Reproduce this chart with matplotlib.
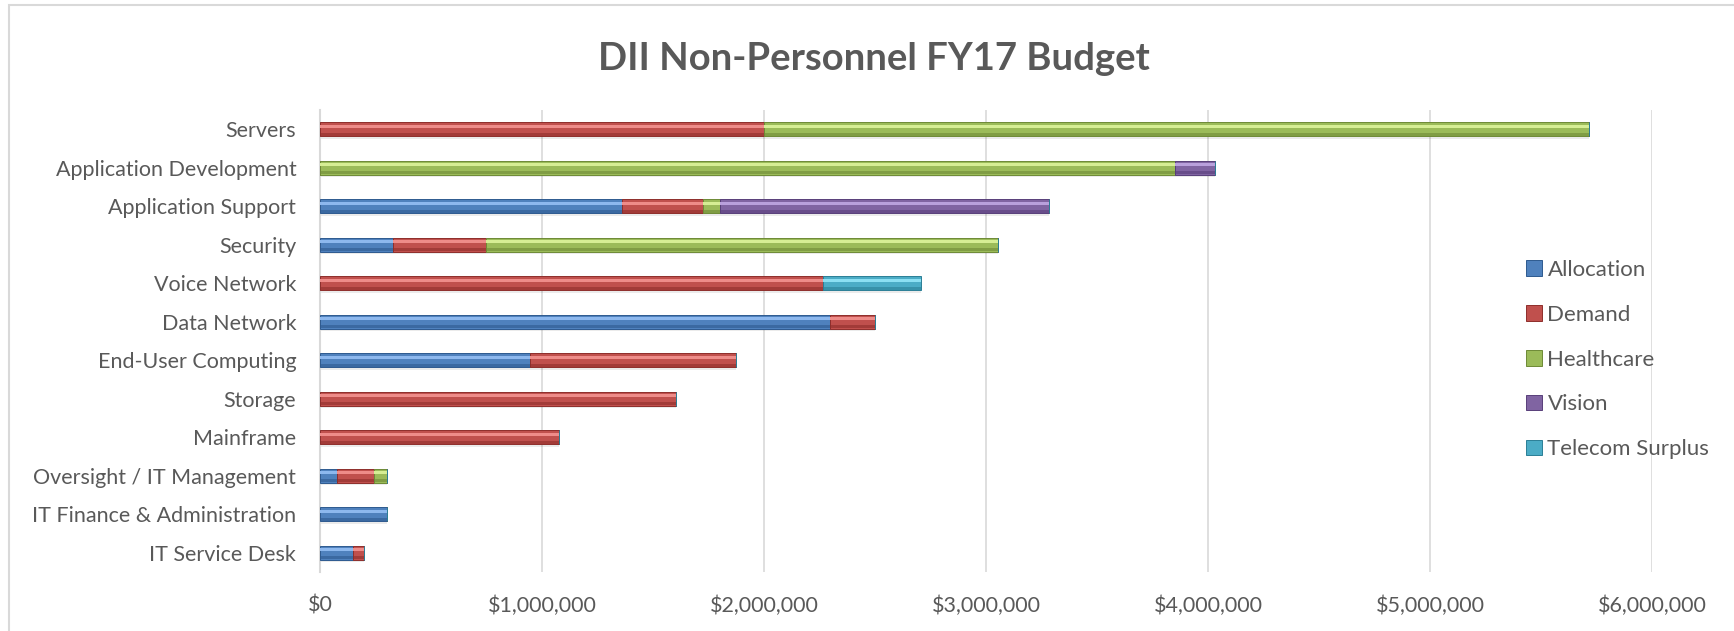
import matplotlib.pyplot as plt
import matplotlib.patches as mpatches
from matplotlib.ticker import FuncFormatter
import numpy as np

plt.rcParams['font.family'] = ['Lato', 'DejaVu Sans']

# categories listed top to bottom
categories = ["Servers", "Application Development", "Application Support", "Security",
              "Voice Network", "Data Network", "End-User Computing", "Storage",
              "Mainframe", "Oversight / IT Management", "IT Finance & Administration",
              "IT Service Desk"]

allocation = [0, 0, 1360000, 330000, 0, 2297000, 947000, 0, 0, 75000, 300000, 150000]
demand = [2000000, 0, 364000, 417000, 2267000, 204000, 926000, 1604000, 1076000, 169000, 0, 50000]
healthcare = [3715000, 3850000, 80000, 2307000, 0, 0, 0, 0, 0, 60000, 0, 0]
vision = [0, 180000, 1480000, 0, 0, 0, 0, 0, 0, 0, 0, 0]
telecom_surplus = [0, 0, 0, 0, 440000, 0, 0, 0, 0, 0, 0, 0]

series_names = ["Allocation", "Demand", "Healthcare", "Vision", "Telecom Surplus"]
series_vals = [allocation, demand, healthcare, vision, telecom_surplus]
colors = ["#4F81BD", "#C0504D", "#9BBB59", "#8064A2", "#4BACC6"]
light = ["#8DB8EE", "#EE8C89", "#D6EE94", "#B9A0DC", "#8BDFF2"]
dark = ["#2E5A8F", "#8E2E2B", "#6E8A36", "#583F7A", "#2B7F96"]

text_col = "#595959"

fig = plt.figure(figsize=(17.34, 6.31), dpi=100)
ax = fig.add_axes([0.1845, 0.0935, 0.7682, 0.7322])

y = np.arange(len(categories))
h = 0.37
left = np.zeros(len(categories))
handles = []
for name, vals, c, lc, dc in zip(series_names, series_vals, colors, light, dark):
    vals = np.array(vals, dtype=float)
    ax.barh(y + 0.06, vals, left=left, height=h, color="#000000", alpha=0.08, linewidth=0, zorder=2)
    ax.barh(y, vals, left=left, height=h, color=c, edgecolor=dc, linewidth=0.7, zorder=3)
    # bevel highlight on the upper part, darker strip at the bottom
    ax.barh(y - h * 0.22, vals, left=left, height=h * 0.22, color=lc, linewidth=0, zorder=4)
    ax.barh(y + h * 0.36, vals, left=left, height=h * 0.22, color=dc, linewidth=0, zorder=4, alpha=0.6)
    left += vals
    handles.append(mpatches.Patch(facecolor=c, edgecolor=dc, linewidth=0.7, label=name))

ax.set_ylim(len(categories) - 0.5, -0.5)
ax.set_xlim(0, 6000000)
ax.set_xticks(np.arange(0, 6000001, 1000000))
ax.xaxis.set_major_formatter(FuncFormatter(lambda v, p: "${:,.0f}".format(v)))
ax.set_yticks(y)
ax.set_yticklabels(categories)
ax.tick_params(axis='both', length=0, labelsize=15.5, colors=text_col)
ax.tick_params(axis='y', pad=17)
ax.tick_params(axis='x', pad=17)
ax.grid(axis='x', color="#D9D9D9", linewidth=1.2, zorder=0)
for s in ['top', 'right', 'bottom']:
    ax.spines[s].set_visible(False)
ax.spines['left'].set_color("#D9D9D9")
ax.spines['left'].set_linewidth(1.5)

leg = ax.legend(handles=handles, loc='upper left', bbox_to_anchor=(0.899, 0.695),
                frameon=False, fontsize=16, handlelength=0.7, handleheight=0.7,
                handletextpad=0.25, labelspacing=1.12, borderaxespad=0)
for t in leg.get_texts():
    t.set_color(text_col)

fig.text(0.504, 0.907, "DII Non-Personnel FY17 Budget", ha='center', va='center',
         fontsize=27.5, fontweight='bold', color=text_col)

# chart area border (only top and left edges visible in the crop)
fig.patches.append(mpatches.Rectangle((0.005, -0.1), 1.2, 1.092, transform=fig.transFigure,
                                      fill=False, edgecolor="#D9D9D9", linewidth=1.5))

fig.savefig("out.png", dpi=100)
